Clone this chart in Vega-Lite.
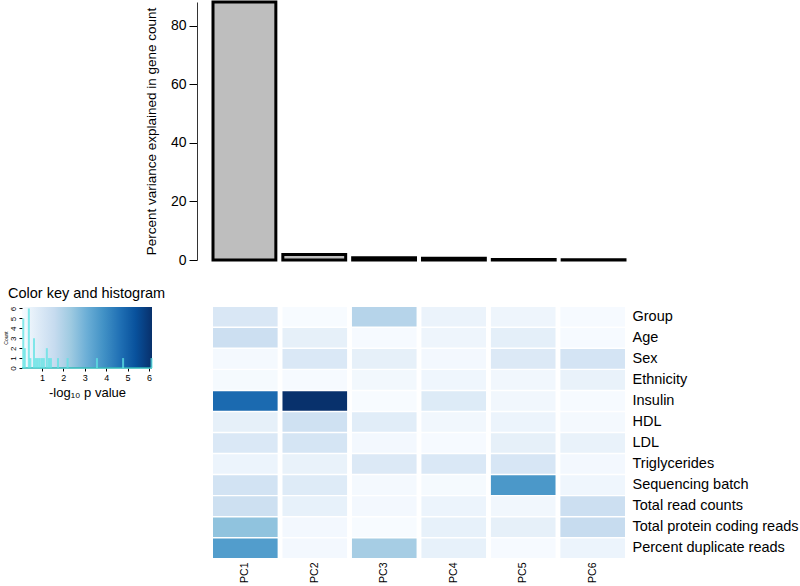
{
  "$schema": "https://vega.github.io/schema/vega-lite/v6.json",
  "padding": {"left": 2, "top": 0, "right": 0, "bottom": 0},
  "background": "white",
  "config": {
    "font": "Liberation Sans",
    "view": {"stroke": null},
    "axis": {"labelColor": "black", "titleColor": "black", "domainColor": "black", "tickColor": "black", "grid": false, "titleFontWeight": "normal"}
  },
  "datasets": {
    "pcvar": [
      {"pc": "PC1", "variance": 88.2},
      {"pc": "PC2", "variance": 1.9},
      {"pc": "PC3", "variance": 0.8},
      {"pc": "PC4", "variance": 0.6},
      {"pc": "PC5", "variance": 0.2},
      {"pc": "PC6", "variance": 0.1}
    ],
    "hist": [
      {"v": 0.13, "count": 5}, {"v": 0.2, "count": 2}, {"v": 0.39, "count": 6}, {"v": 0.46, "count": 1},
      {"v": 0.63, "count": 3}, {"v": 0.72, "count": 1}, {"v": 0.81, "count": 1}, {"v": 0.9, "count": 1},
      {"v": 1.0, "count": 1}, {"v": 1.09, "count": 1}, {"v": 1.23, "count": 2}, {"v": 1.33, "count": 1},
      {"v": 1.42, "count": 1}, {"v": 1.75, "count": 1}, {"v": 2.2, "count": 1}, {"v": 3.57, "count": 1},
      {"v": 4.79, "count": 1}, {"v": 6.12, "count": 1}
    ],
    "heat": [
      {"var": "Group", "pc": "PC1", "p": 1.0}, {"var": "Group", "pc": "PC2", "p": 0.08}, {"var": "Group", "pc": "PC3", "p": 1.9}, {"var": "Group", "pc": "PC4", "p": 0.45}, {"var": "Group", "pc": "PC5", "p": 0.35}, {"var": "Group", "pc": "PC6", "p": 0.1},
      {"var": "Age", "pc": "PC1", "p": 1.4}, {"var": "Age", "pc": "PC2", "p": 0.6}, {"var": "Age", "pc": "PC3", "p": 0.1}, {"var": "Age", "pc": "PC4", "p": 0.35}, {"var": "Age", "pc": "PC5", "p": 0.65}, {"var": "Age", "pc": "PC6", "p": 0.1},
      {"var": "Sex", "pc": "PC1", "p": 0.15}, {"var": "Sex", "pc": "PC2", "p": 0.95}, {"var": "Sex", "pc": "PC3", "p": 0.6}, {"var": "Sex", "pc": "PC4", "p": 0.2}, {"var": "Sex", "pc": "PC5", "p": 0.9}, {"var": "Sex", "pc": "PC6", "p": 1.15},
      {"var": "Ethnicity", "pc": "PC1", "p": 0.12}, {"var": "Ethnicity", "pc": "PC2", "p": 0.1}, {"var": "Ethnicity", "pc": "PC3", "p": 0.22}, {"var": "Ethnicity", "pc": "PC4", "p": 0.3}, {"var": "Ethnicity", "pc": "PC5", "p": 0.25}, {"var": "Ethnicity", "pc": "PC6", "p": 0.5},
      {"var": "Insulin", "pc": "PC1", "p": 4.79}, {"var": "Insulin", "pc": "PC2", "p": 6.12}, {"var": "Insulin", "pc": "PC3", "p": 0.07}, {"var": "Insulin", "pc": "PC4", "p": 0.85}, {"var": "Insulin", "pc": "PC5", "p": 0.25}, {"var": "Insulin", "pc": "PC6", "p": 0.1},
      {"var": "HDL", "pc": "PC1", "p": 0.6}, {"var": "HDL", "pc": "PC2", "p": 1.3}, {"var": "HDL", "pc": "PC3", "p": 0.75}, {"var": "HDL", "pc": "PC4", "p": 0.25}, {"var": "HDL", "pc": "PC5", "p": 0.4}, {"var": "HDL", "pc": "PC6", "p": 0.15},
      {"var": "LDL", "pc": "PC1", "p": 0.95}, {"var": "LDL", "pc": "PC2", "p": 1.1}, {"var": "LDL", "pc": "PC3", "p": 0.2}, {"var": "LDL", "pc": "PC4", "p": 0.1}, {"var": "LDL", "pc": "PC5", "p": 0.6}, {"var": "LDL", "pc": "PC6", "p": 0.5},
      {"var": "Triglycerides", "pc": "PC1", "p": 0.4}, {"var": "Triglycerides", "pc": "PC2", "p": 0.5}, {"var": "Triglycerides", "pc": "PC3", "p": 0.9}, {"var": "Triglycerides", "pc": "PC4", "p": 0.95}, {"var": "Triglycerides", "pc": "PC5", "p": 1.05}, {"var": "Triglycerides", "pc": "PC6", "p": 0.2},
      {"var": "Sequencing batch", "pc": "PC1", "p": 1.2}, {"var": "Sequencing batch", "pc": "PC2", "p": 0.83}, {"var": "Sequencing batch", "pc": "PC3", "p": 0.15}, {"var": "Sequencing batch", "pc": "PC4", "p": 0.12}, {"var": "Sequencing batch", "pc": "PC5", "p": 3.7}, {"var": "Sequencing batch", "pc": "PC6", "p": 0.3},
      {"var": "Total read counts", "pc": "PC1", "p": 1.35}, {"var": "Total read counts", "pc": "PC2", "p": 0.55}, {"var": "Total read counts", "pc": "PC3", "p": 0.2}, {"var": "Total read counts", "pc": "PC4", "p": 0.4}, {"var": "Total read counts", "pc": "PC5", "p": 0.25}, {"var": "Total read counts", "pc": "PC6", "p": 1.4},
      {"var": "Total protein coding reads", "pc": "PC1", "p": 2.55}, {"var": "Total protein coding reads", "pc": "PC2", "p": 0.2}, {"var": "Total protein coding reads", "pc": "PC3", "p": 0.07}, {"var": "Total protein coding reads", "pc": "PC4", "p": 0.55}, {"var": "Total protein coding reads", "pc": "PC5", "p": 0.6}, {"var": "Total protein coding reads", "pc": "PC6", "p": 1.55},
      {"var": "Percent duplicate reads", "pc": "PC1", "p": 3.57}, {"var": "Percent duplicate reads", "pc": "PC2", "p": 0.2}, {"var": "Percent duplicate reads", "pc": "PC3", "p": 2.2}, {"var": "Percent duplicate reads", "pc": "PC4", "p": 0.55}, {"var": "Percent duplicate reads", "pc": "PC5", "p": 0.1}, {"var": "Percent duplicate reads", "pc": "PC6", "p": 0.4}
    ]
  },
  "columns": 2,
  "bounds": "flush",
  "spacing": {"row": 47, "column": 61},
  "concat": [
    {
      "data": {"values": []},
      "width": 10,
      "height": 10,
      "mark": "point",
      "encoding": {}
    },
    {
      "data": {"name": "pcvar"},
      "width": 412,
      "height": 258,
      "mark": {"type": "bar", "fill": "#bebebe", "stroke": "black", "strokeWidth": 3},
      "encoding": {
        "x": {"field": "pc", "type": "nominal", "sort": null, "scale": {"paddingInner": 0.1, "paddingOuter": 0}, "axis": null},
        "y": {
          "field": "variance", "type": "quantitative",
          "scale": {"domain": [0, 88.2], "nice": false},
          "axis": {"values": [0, 20, 40, 60, 80], "offset": 16, "tickSize": 8, "labelFontSize": 14, "labelPadding": 3,
                   "title": "Percent variance explained in gene count", "titleFontSize": 13.5, "titlePadding": 12, "domainColor": "#333333"}
        }
      }
    },
    {
      "width": 130,
      "height": 61,
      "title": {"text": "Color key and histogram", "anchor": "start", "frame": "group", "dx": -14, "fontSize": 14.5, "fontWeight": "normal", "offset": 5},
      "view": {
        "stroke": null,
        "fill": {
          "gradient": "linear", "x1": 0, "y1": 0, "x2": 1, "y2": 0,
          "stops": [
            {"offset": 0, "color": "#f7fbff"}, {"offset": 0.125, "color": "#deebf7"}, {"offset": 0.25, "color": "#c6dbef"},
            {"offset": 0.375, "color": "#9ecae1"}, {"offset": 0.5, "color": "#6baed6"}, {"offset": 0.625, "color": "#4292c6"},
            {"offset": 0.75, "color": "#2171b5"}, {"offset": 0.875, "color": "#08519c"}, {"offset": 1, "color": "#08306b"}
          ]
        }
      },
      "layer": [
        {
          "data": {"values": [{}]},
          "mark": {"type": "rule", "color": "#30b8b8", "strokeWidth": 1.5},
          "encoding": {
            "y": {"datum": 0, "type": "quantitative", "scale": {"domain": [0, 6.15], "nice": false},
                  "axis": {"values": [0, 1, 2, 3, 4, 5, 6], "domain": false, "tickSize": 3, "labelFontSize": 8, "labelAngle": 270, "labelOverlap": false, "labelFlush": false, "labelPadding": 2,
                           "title": "Count", "titleFontSize": 5, "titlePadding": 1}}
          }
        },
        {
          "data": {"name": "hist"},
          "mark": {"type": "rule", "color": "#5ee3e3", "opacity": 0.75, "strokeWidth": 2},
          "encoding": {
            "x": {"field": "v", "type": "quantitative", "scale": {"domain": [0.07, 6.14], "nice": false, "zero": false},
                  "axis": {"values": [1, 2, 3, 4, 5, 6], "domain": false, "tickSize": 3, "labelFontSize": 9, "labelPadding": 2,
                           "title": "-log₁₀ p value", "titleFontSize": 13, "titlePadding": 4}},
            "y": {"field": "count", "type": "quantitative", "scale": {"domain": [0, 6.15], "nice": false},
                  "axis": {"values": [0, 1, 2, 3, 4, 5, 6], "domain": false, "tickSize": 3, "labelFontSize": 8, "labelAngle": 270, "labelOverlap": false, "labelFlush": false, "labelPadding": 2,
                           "title": "Count", "titleFontSize": 5, "titlePadding": 1}},
            "y2": {"datum": 0}
          }
        }
      ]
    },
    {
      "data": {"name": "heat"},
      "width": 412,
      "height": 251,
      "mark": {"type": "rect"},
      "encoding": {
        "x": {"field": "pc", "type": "nominal", "sort": null, "scale": {"paddingInner": 0.07, "paddingOuter": 0},
              "axis": {"orient": "bottom", "labelAngle": -90, "ticks": false, "domain": false, "labelFontSize": 10.5, "labelPadding": 4, "title": null}},
        "y": {"field": "var", "type": "nominal",
              "sort": ["Group", "Age", "Sex", "Ethnicity", "Insulin", "HDL", "LDL", "Triglycerides", "Sequencing batch", "Total read counts", "Total protein coding reads", "Percent duplicate reads"],
              "scale": {"paddingInner": 0.07, "paddingOuter": 0},
              "axis": {"orient": "right", "ticks": false, "domain": false, "labelFontSize": 14.5, "labelPadding": 7, "title": null}},
        "color": {"field": "p", "type": "quantitative",
                  "scale": {"domain": [0.07, 6.14], "range": ["#f7fbff", "#deebf7", "#c6dbef", "#9ecae1", "#6baed6", "#4292c6", "#2171b5", "#08519c", "#08306b"], "clamp": true},
                  "legend": null}
      }
    }
  ]
}
